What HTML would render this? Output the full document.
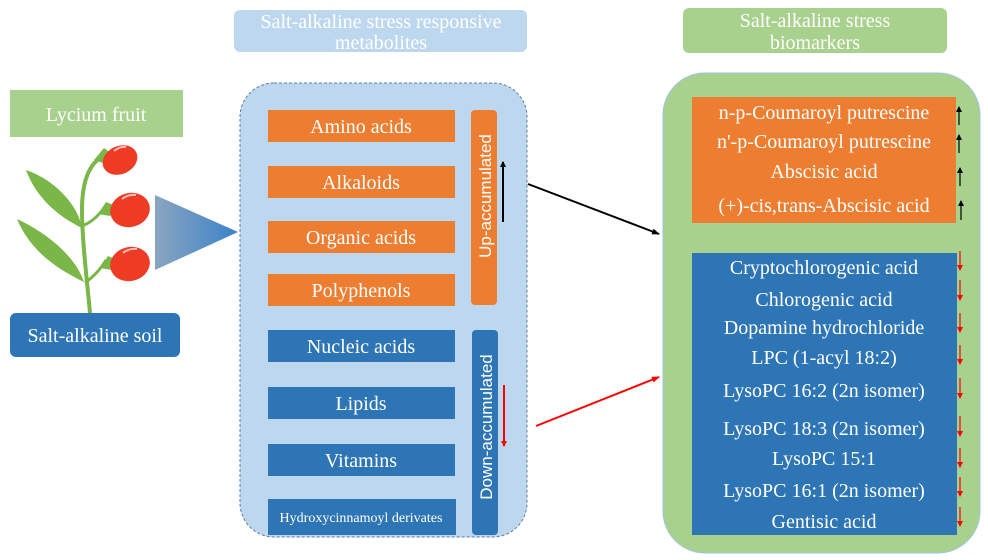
<!DOCTYPE html>
<html><head><meta charset="utf-8"><style>
html,body{margin:0;padding:0;background:#fff;}
svg{display:block;}
text{font-family:"Liberation Serif",serif;fill:#fff;}
</style></head><body>
<svg width="988" height="560" viewBox="0 0 988 560" xmlns="http://www.w3.org/2000/svg">
<defs>
<linearGradient id="tg" x1="0" x2="1" y1="0" y2="0">
<stop offset="0" stop-color="#8aa5c0"/><stop offset="1" stop-color="#3a82c8"/>
</linearGradient>
<marker id="ab" markerWidth="8" markerHeight="6" refX="7" refY="3" orient="auto" markerUnits="userSpaceOnUse"><path d="M0,0 L8,3 L0,6z" fill="#000"/></marker>
<marker id="ar" markerWidth="8" markerHeight="6" refX="7" refY="3" orient="auto" markerUnits="userSpaceOnUse"><path d="M0,0 L8,3 L0,6z" fill="#f00"/></marker>
<marker id="abs" markerWidth="6" markerHeight="6" refX="5" refY="3" orient="auto" markerUnits="userSpaceOnUse"><path d="M0,0 L6,3 L0,6z" fill="#000"/></marker>
<marker id="ars" markerWidth="6" markerHeight="6" refX="5" refY="3" orient="auto" markerUnits="userSpaceOnUse"><path d="M0,0 L6,3 L0,6z" fill="#f00"/></marker>
</defs>

<!-- Left -->
<rect x="10" y="90" width="173" height="47" fill="#a9d18e"/>
<text x="96" y="121" font-size="20" text-anchor="middle">Lycium fruit</text>
<!-- plant -->
<g>
<path d="M90,313 C87,280 82,240 82,210 C82,180 90,165 100,158" stroke="#7ab648" stroke-width="4" fill="none"/>
<path d="M82,226 C92,222 98,216 104,208" stroke="#7ab648" stroke-width="3" fill="none"/>
<path d="M85,283 C94,276 100,270 106,260" stroke="#7ab648" stroke-width="3" fill="none"/>
<path d="M26,170 C55,180 78,205 82,228 C55,215 35,195 26,170z" fill="#7ab648"/>
<path d="M17,219 C45,232 75,255 84,282 C55,268 30,250 17,219z" fill="#7ab648"/>
<path d="M94,160 l10,-12 l8,6 l-6,10z" fill="#7ab648"/>
<path d="M98,214 l8,-12 l10,4 l-6,10z" fill="#7ab648"/>
<path d="M100,268 l8,-12 l10,4 l-6,10z" fill="#7ab648"/>
<ellipse cx="120" cy="160" rx="18" ry="14" transform="rotate(-25 120 160)" fill="#ee3b24"/>
<ellipse cx="130" cy="210" rx="20" ry="17" transform="rotate(-15 130 210)" fill="#ee3b24"/>
<ellipse cx="130" cy="264" rx="20" ry="17" transform="rotate(-15 130 264)" fill="#ee3b24"/>
<path d="M114,151 q6,-5 12,-4" stroke="#fbb" stroke-width="2" fill="none"/>
<path d="M122,199 q6,-5 14,-4" stroke="#fbb" stroke-width="2" fill="none"/>
<path d="M123,253 q6,-5 14,-4" stroke="#fbb" stroke-width="2" fill="none"/>
</g>
<rect x="10" y="313" width="170" height="44" rx="6" fill="#2e75b6"/>
<text x="95" y="342" font-size="20" text-anchor="middle">Salt-alkaline soil</text>
<polygon points="155,195 238,232 155,270" fill="url(#tg)"/>

<!-- Middle -->
<rect x="234" y="10" width="293" height="42" rx="6" fill="#bdd7ee"/>
<text x="381" y="28" font-size="20" text-anchor="middle">Salt-alkaline stress responsive</text>
<text x="381" y="49" font-size="20" text-anchor="middle">metabolites</text>
<rect x="240" y="83" width="287" height="454" rx="34" fill="#bdd7ee" stroke="#5b7fa6" stroke-dasharray="3,2"/>
<g font-size="20">
<rect x="268" y="110" width="187" height="32" fill="#ed7d31"/><text x="361" y="133" text-anchor="middle">Amino acids</text>
<rect x="268" y="166" width="187" height="32" fill="#ed7d31"/><text x="361" y="189" text-anchor="middle">Alkaloids</text>
<rect x="268" y="221" width="187" height="32" fill="#ed7d31"/><text x="361" y="244" text-anchor="middle">Organic acids</text>
<rect x="268" y="274" width="187" height="32" fill="#ed7d31"/><text x="361" y="297" text-anchor="middle">Polyphenols</text>
<rect x="268" y="330" width="187" height="32" fill="#2e75b6"/><text x="361" y="353" text-anchor="middle">Nucleic acids</text>
<rect x="268" y="387" width="187" height="32" fill="#2e75b6"/><text x="361" y="410" text-anchor="middle">Lipids</text>
<rect x="268" y="444" width="187" height="32" fill="#2e75b6"/><text x="361" y="467" text-anchor="middle">Vitamins</text>
<rect x="268" y="499" width="188" height="36" fill="#2e75b6"/><text x="361" y="522" font-size="14" text-anchor="middle">Hydroxycinnamoyl derivates</text>
</g>
<rect x="471" y="110" width="26" height="195" rx="4" fill="#ed7d31"/>
<text transform="translate(491,196) rotate(-90)" font-size="17" text-anchor="middle" style="font-family:'Liberation Sans',sans-serif">Up-accumulated</text>
<rect x="472" y="330" width="26" height="205" rx="4" fill="#2e75b6"/>
<text transform="translate(492,427) rotate(-90)" font-size="17" text-anchor="middle" style="font-family:'Liberation Sans',sans-serif">Down-accumulated</text>
<line x1="503" y1="222" x2="503" y2="162" stroke="#000" stroke-width="2" marker-end="url(#abs)"/>
<line x1="504" y1="385" x2="504" y2="446" stroke="#f00" stroke-width="2" marker-end="url(#ars)"/>

<!-- connectors -->
<line x1="528" y1="184" x2="659" y2="234" stroke="#000" stroke-width="2" marker-end="url(#ab)"/>
<line x1="536" y1="426" x2="659" y2="377" stroke="#f00" stroke-width="2" marker-end="url(#ar)"/>

<!-- Right -->
<rect x="683" y="8" width="264" height="45" rx="6" fill="#a9d18e"/>
<text x="815" y="27" font-size="20" text-anchor="middle">Salt-alkaline stress</text>
<text x="815" y="49" font-size="20" text-anchor="middle">biomarkers</text>
<rect x="663" y="73" width="317" height="480" rx="42" fill="#a9d18e" stroke="#9dc3e6" stroke-width="1"/>
<rect x="692" y="97" width="264" height="126" fill="#ed7d31"/>
<rect x="692" y="253" width="265" height="282" fill="#2e75b6"/>
<g font-size="20" text-anchor="middle">
<text x="824" y="119">n-p-Coumaroyl putrescine</text>
<text x="824" y="148">n'-p-Coumaroyl putrescine</text>
<text x="824" y="178">Abscisic acid</text>
<text x="824" y="212">(+)-cis,trans-Abscisic acid</text>
<text x="824" y="274">Cryptochlorogenic acid</text>
<text x="824" y="306">Chlorogenic acid</text>
<text x="824" y="334">Dopamine hydrochloride</text>
<text x="824" y="364">LPC (1-acyl 18:2)</text>
<text x="824" y="397">LysoPC 16:2 (2n isomer)</text>
<text x="824" y="435">LysoPC 18:3 (2n isomer)</text>
<text x="824" y="465">LysoPC 15:1</text>
<text x="824" y="497">LysoPC 16:1 (2n isomer)</text>
<text x="824" y="528">Gentisic acid</text>
</g>
<g stroke="#000" stroke-width="1.2">
<line x1="959" y1="125" x2="959" y2="107" marker-end="url(#abs)"/>
<line x1="959" y1="153" x2="959" y2="135" marker-end="url(#abs)"/>
<line x1="960" y1="186" x2="960" y2="168" marker-end="url(#abs)"/>
<line x1="961" y1="220" x2="961" y2="201" marker-end="url(#abs)"/>
</g>
<g stroke="#f00" stroke-width="1.2">
<line x1="960" y1="251" x2="960" y2="270" marker-end="url(#ars)"/>
<line x1="960" y1="280" x2="960" y2="300" marker-end="url(#ars)"/>
<line x1="960" y1="313" x2="960" y2="332" marker-end="url(#ars)"/>
<line x1="960" y1="345" x2="960" y2="364" marker-end="url(#ars)"/>
<line x1="960" y1="378" x2="960" y2="398" marker-end="url(#ars)"/>
<line x1="960" y1="416" x2="960" y2="436" marker-end="url(#ars)"/>
<line x1="960" y1="448" x2="960" y2="467" marker-end="url(#ars)"/>
<line x1="960" y1="477" x2="960" y2="496" marker-end="url(#ars)"/>
<line x1="960" y1="507" x2="960" y2="526" marker-end="url(#ars)"/>
</g>
</svg>
</body></html>
